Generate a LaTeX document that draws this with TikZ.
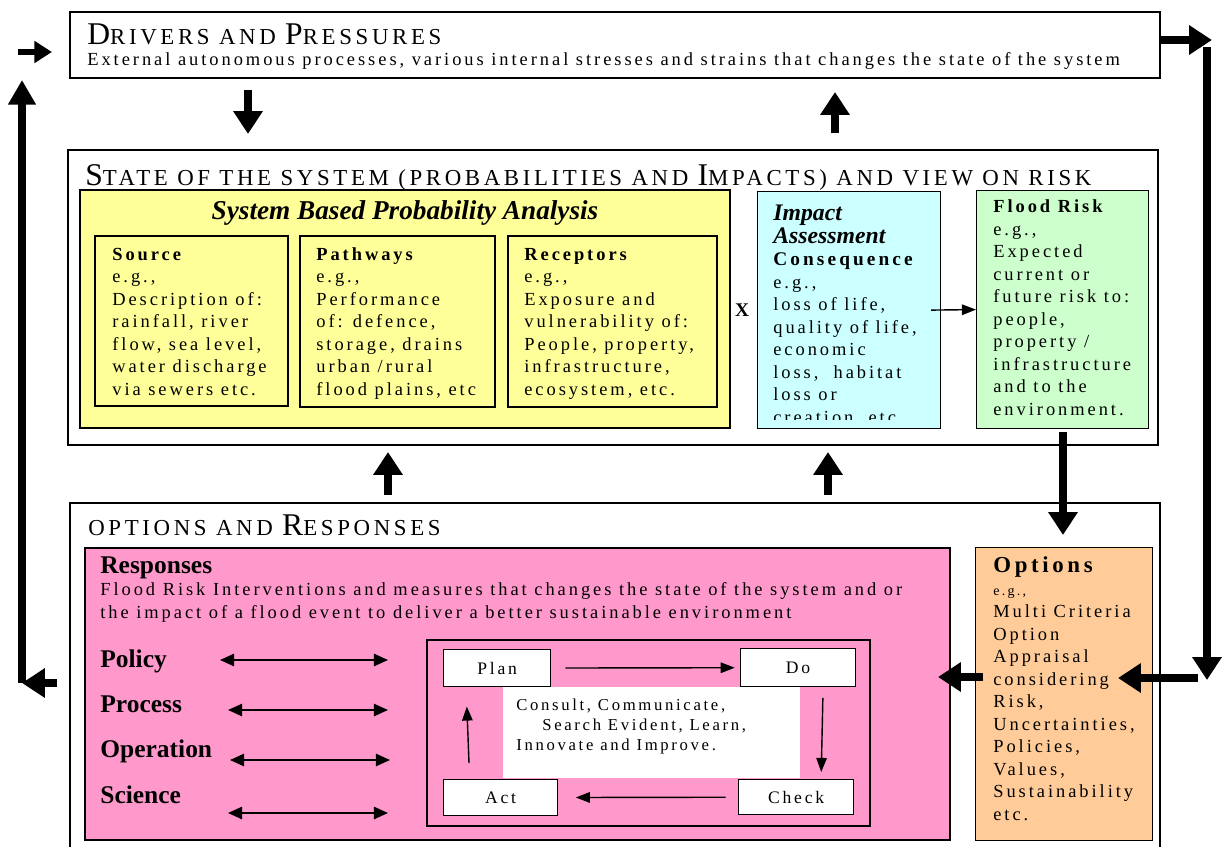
\documentclass[tikz,border=0pt]{standalone}
\usepackage{fontspec}
\setmainfont{Liberation Serif}[LetterSpace=16]
\newfontfamily\tightserif{Liberation Serif}
\usetikzlibrary{arrows.meta}
\definecolor{sbpa}{HTML}{FFFF99}
\definecolor{impact}{HTML}{CCFFFF}
\definecolor{risk}{HTML}{CCFFCC}
\definecolor{resp}{HTML}{FF99CC}
\definecolor{opts}{HTML}{FFCC99}
\newcommand\capbig[1]{{\fontsize{18}{20}\selectfont #1}}
\tikzset{
  frame/.style={draw, line width=0.7pt},
  panel/.style={draw, line width=0.7pt, fill=#1},
  title/.style={anchor=base west, inner sep=0pt, font=\fontsize{13}{15}\selectfont},
  txt/.style={anchor=base west, align=left, inner sep=0pt, font=\fontsize{10.5}{12.8}\selectfont},
  fat/.style={line width=4pt, -{Triangle[width=16pt,length=13pt]}},
  small fat/.style={line width=3pt, -{Triangle[width=12pt,length=10pt]}},
  thin arrow/.style={line width=0.8pt, -{Triangle[width=6pt,length=8pt]}},
  both arrow/.style={line width=1pt, {Triangle[width=7pt,length=8pt]}-{Triangle[width=7pt,length=8pt]}},
  stepbox/.style={draw, line width=0.7pt, fill=white, anchor=north west, inner sep=0pt,
    font=\fontsize{10}{12}\selectfont},
  lever/.style={anchor=base west, inner sep=0pt, font=\tightserif\bfseries\fontsize{14.5}{16}\selectfont},
}

\begin{document}
\begin{tikzpicture}[x=0.02cm, y=-0.02cm]
\useasboundingbox (0,0) rectangle (1225,846);
% Drivers and pressures
    \draw[frame] (70,12) rectangle (1160,78);
    \node[title] (drvT) at (87,44) {\capbig{D}RIVERS AND \capbig{P}RESSURES};
    \node[txt] (drvS) at (87,65) {External autonomous processes, various internal stresses and strains that changes the state of the system};
% State of the system
    \draw[frame] (68,150) rectangle (1158,445);
    \node[title] (stT) at (85,185) {\capbig{S}TATE OF THE SYSTEM (PROBABILITIES AND \capbig{I}MPACTS) AND VIEW ON RISK};
    \draw[panel=sbpa] (80,190) rectangle (730,428);
    \node[anchor=base, inner sep=0pt, font=\tightserif\bfseries\itshape\fontsize{15.5}{17}\selectfont] (sbpaT) at (405,219) {System Based Probability Analysis};
    \draw[frame] (95,236) rectangle (288,406);
    \draw[frame] (300,236) rectangle (495,407);
    \draw[frame] (508,236) rectangle (717,407);
    \node[txt] (src) at (112,395) {{\bfseries Source}\\e.g.,\\Description of:\\rainfall, river\\flow, sea level,\\water discharge\\via sewers etc.};
    \node[txt] (path) at (316,395) {{\bfseries Pathways}\\e.g.,\\Performance\\of: defence,\\storage, drains\\urban /rural\\flood plains, etc};
    \node[txt] (rec) at (524,395) {{\bfseries Receptors}\\e.g.,\\Exposure and\\vulnerability of:\\People, property,\\infrastructure,\\ecosystem, etc.};
    \node[anchor=center, inner sep=0pt, font=\bfseries\fontsize{11}{13}\selectfont] (times) at (742,310) {X};
    \node[panel=impact, anchor=north west, minimum width=3.66cm, minimum height=4.74cm, inner sep=0pt] (imp) at (757,191) {};
    \begin{scope}
    \clip (757,191) rectangle (940,419);
    \node[txt] (impT) at (773,423) {{\tightserif\bfseries\itshape\fontsize{13.5}{15}\selectfont Impact}\\{\tightserif\bfseries\itshape\fontsize{13.5}{15}\selectfont Assessment}\\{\bfseries\fontsize{11}{13}\selectfont Consequence}\\e.g.,\\loss of life,\\quality of life,\\economic\\loss,\ \ habitat\\loss or\\creation, etc};
    \end{scope}
    \node[panel=risk, anchor=north west, minimum width=3.44cm, minimum height=4.76cm, inner sep=0pt] (risk) at (976,190) {};
    \node[txt] (riskT) at (993,415) {{\bfseries Flood Risk}\\e.g.,\\Expected\\current or\\future risk to:\\people,\\property /\\infrastructure\\and to the\\environment.};
    \draw[thin arrow] ([xshift=-0.2cm]imp.east) -- (risk.west);
% Options and responses
    \draw[frame] (70,870) -- (70,503) -- (1160,503) -- (1160,870);
    \node[title] (orT) at (88,535) {OPTIONS AND \capbig{R}ESPONSES};
    \draw[panel=resp] (85,548) rectangle (950,840);
    \node[txt] (respT) at (100,618) {{\tightserif\bfseries\fontsize{14.5}{16}\selectfont Responses}\\Flood Risk Interventions and measures that changes the state of the system and or\\the impact of a flood event to deliver a better sustainable environment};
    \node[lever] (pol) at (100,667) {Policy};
    \node[lever] (pro) at (100,712) {Process};
    \node[lever] (ope) at (100,757) {Operation};
    \node[lever] (sci) at (100,803) {Science};
    \draw[both arrow] (220,660) -- (388,660);
    \draw[both arrow] (228,710) -- (388,710);
    \draw[both arrow] (230,760) -- (390,760);
    \draw[both arrow] (228,813) -- (388,813);
    \draw[panel=resp] (427,640) rectangle (870,826);
    \fill[white] (503,687) rectangle (800,778);
    \node[stepbox, minimum width=2.14cm, minimum height=0.74cm] (plan) at (443,649) {Plan};
    \node[stepbox, minimum width=2.3cm, minimum height=0.76cm] (do) at (740,648) {Do};
    \node[stepbox, minimum width=2.28cm, minimum height=0.72cm] (act) at (443,779) {Act};
    \node[stepbox, minimum width=2.3cm, minimum height=0.7cm] (check) at (738,779) {Check};
    \node[txt, font=\fontsize{9.5}{11.3}\selectfont] (cycT) at (516,750) {Consult, Communicate,\\\hspace{0.52cm}Search Evident, Learn,\\Innovate and Improve.};
    \draw[thin arrow, shorten <=8pt, shorten >=3pt] (plan) -- (do);
    \draw[thin arrow, shorten <=6pt, shorten >=4pt] ([xshift=0.5cm]do.south) -- ([xshift=0.5cm]check.north);
    \draw[thin arrow, shorten <=7pt, shorten >=10pt] (check) -- (act);
    \draw[thin arrow, shorten <=9pt, shorten >=11pt] ([xshift=-0.62cm]act.north) -- ([xshift=-0.62cm]plan.south);
    \node[panel=opts, anchor=north west, minimum width=3.54cm, minimum height=5.86cm, inner sep=0pt] (opt) at (975,547) {};
    \node[txt] (optT) at (993,820) {{\bfseries\fontsize{13}{15}\selectfont Options}\\{\fontsize{8}{10}\selectfont e.g.,}\\Multi Criteria\\Option\\Appraisal\\considering\\Risk,\\Uncertainties,\\Policies,\\Values,\\Sustainability\\etc.};
% Thick arrows between levels
    \coordinate (dn1) at (248,90);   \coordinate (dn1e) at (248,134);
    \coordinate (up1) at (835,133);  \coordinate (up1e) at (835,92);
    \coordinate (up2) at (388,495);  \coordinate (up2e) at (388,452);
    \coordinate (up3) at (828,495);  \coordinate (up3e) at (828,452);
    \coordinate (dn2) at (1063,432); \coordinate (dn2e) at (1063,535);
    \draw[fat] (dn1) -- (dn1e);
    \draw[fat] (up1) -- (up1e);
    \draw[fat] (up2) -- (up2e);
    \draw[fat] (up3) -- (up3e);
    \draw[fat] (dn2) -- (dn2e);
    \draw[fat] ([xshift=0.16cm]opt.west |- 0,677) -- (938,677);
% Outer loops
    \coordinate (r1) at (1160,40);  \coordinate (r2) at (1212,40);
    \coordinate (r3) at (1207,47);  \coordinate (r4) at (1207,680);
    \coordinate (r5) at (1198,678); \coordinate (r6) at (1118,678);
    \draw[fat] (r1) -- (r2);
    \draw[fat] (r3) -- (r4);
    \draw[fat] (r5) -- (r6);
    \coordinate (l1) at (57,683);  \coordinate (l2) at (22,683);
    \coordinate (l3) at (22,80);   \coordinate (l4) at (18,52);
    \coordinate (l5) at (52,52);
    \draw[fat] (l1) -- (l2);
    \draw[line width=4pt, -{Triangle[width=15pt,length=14pt]}] (l2) -- (l3);
    \draw[small fat] (l4) -- (l5);
\end{tikzpicture}
\end{document}
